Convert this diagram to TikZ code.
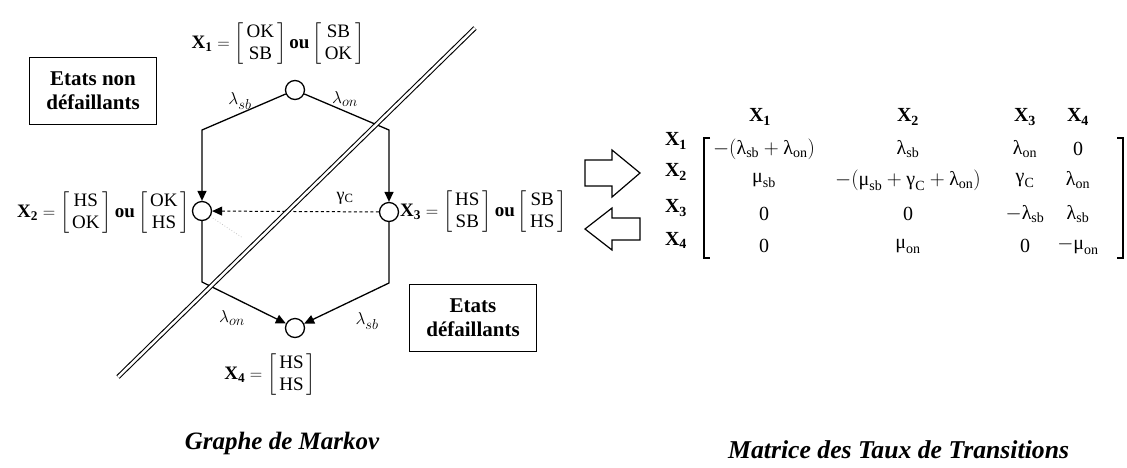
\documentclass[tikz,border=0pt]{standalone}
\usepackage{amsmath}
\usepackage{fontspec}
\setmainfont{Liberation Serif}
\usetikzlibrary{arrows.meta}
\newcommand{\vm}[2]{\left[\begin{array}{@{\hspace{3pt}}c@{\hspace{3pt}}}\text{#1}\\\text{#2}\end{array}\right]}
\newcommand{\Xs}[1]{\textbf{X}\textsubscript{\textbf{#1}}}
\newcommand{\gl}[2]{\text{#1}_{\text{#2}}}
\tikzset{
  state/.style={circle, draw, line width=1.3pt, minimum size=19pt, inner sep=0pt},
  edge/.style={line width=1.3pt, -{Triangle[length=10pt,width=9pt]}},
  lab/.style={font=\fontsize{19}{22}\selectfont, inner sep=0pt},
  rate/.style={font=\fontsize{19}{22}\selectfont, inner sep=1pt},
  etat/.style={draw, line width=1.2pt, align=center, font=\bfseries\fontsize{21}{24}\selectfont, minimum width=127pt, minimum height=67pt, inner sep=0pt},
  capt/.style={font=\bfseries\itshape\fontsize{25}{30}\selectfont, inner sep=0pt},
  mx/.style={font=\fontsize{20}{24}\selectfont, inner sep=0pt},
  hd/.style={font=\bfseries\fontsize{20}{24}\selectfont, inner sep=0pt},
  bigarrow/.style={draw, line width=1.2pt, fill=white, line join=miter},
  dbl/.style={double, double distance=2.5pt, line width=1.1pt}
}
\begin{document}
\begin{tikzpicture}[x=1pt,y=-1pt]
\useasboundingbox (0,0) rectangle (1127,467);
% states
\node[state] (X1) at (295,90) {};
\node[state] (X2) at (202,211) {};
\node[state] (X3) at (389,212) {};
\node[state] (X4) at (295,328) {};
% state labels
\node[lab] (L1) at (278,44) {\Xs{1} $=\vm{OK}{SB}$\,\textbf{ou}\,$\vm{SB}{OK}$};
\node[lab, anchor=east] (L2) at (190,213) {\Xs{2} $=\vm{HS}{OK}$\,\textbf{ou}\,$\vm{OK}{HS}$};
\node[lab, anchor=west] (L3) at (400,212) {\Xs{3} $=\vm{HS}{SB}$\,\textbf{ou}\,$\vm{SB}{HS}$};
\node[lab] (L4) at (270,375) {\Xs{4} $=\vm{HS}{HS}$};
% boxes
\node[etat] (B1) at (93,91) {Etats non\\défaillants};
\node[etat] (B2) at (473,318) {Etats\\défaillants};
% corners
\coordinate (cL) at (202,130);
\coordinate (cR) at (389,130);
\coordinate (bL) at (202,282);
\coordinate (bR) at (389,283);
\draw[edge] (X1) -- (cL) -- (X2);
\draw[edge] (X1) -- (cR) -- (X3);
\draw[edge] (X2) -- (bL) -- (X4);
\draw[edge] (X3) -- (bR) -- (X4);
\draw[edge, line width=1pt, dash pattern=on 3pt off 2.5pt] (X3) -- (X2);
\coordinate (f1) at (243,238);
\draw[gray!45, dotted, line width=0.8pt] (X2) -- (f1);
% rate labels
\node[rate] (r1) at (240,101) {$\lambda_{sb}$};
\node[rate] (r2) at (345,99) {$\lambda_{on}$};
\node[rate] (r3) at (232,318) {$\lambda_{on}$};
\node[rate] (r4) at (367,321) {$\lambda_{sb}$};
\node[rate, font=\fontsize{18}{20}\selectfont] (r5) at (345,198) {γ\textsubscript{C}};
% separating double line
\coordinate (d1) at (118,377);
\coordinate (d2) at (475,28);
\draw[dbl] (d1) -- (d2);
% block arrows
\draw[bigarrow] (585,160) -- (612,160) -- (612,150) -- (640,173) -- (612,197) -- (612,186) -- (585,186) -- cycle;
\draw[bigarrow] (640,218) -- (612,218) -- (612,208) -- (585,229) -- (612,250) -- (612,240) -- (640,240) -- cycle;
% matrix headers
\node[hd] (h1) at (760,117) {\Xs{1}};
\node[hd] (h2) at (908,117) {\Xs{2}};
\node[hd] (h3) at (1025,117) {\Xs{3}};
\node[hd] (h4) at (1078,117) {\Xs{4}};
\node[hd] (v1) at (676,141) {\Xs{1}};
\node[hd] (v2) at (676,172) {\Xs{2}};
\node[hd] (v3) at (676,208) {\Xs{3}};
\node[hd] (v4) at (676,240) {\Xs{4}};
% entries
\node[mx] (m11) at (764,149) {$-\!\left(\gl{λ}{sb}+\gl{λ}{on}\right)$};
\node[mx] (m12) at (908,149) {$\gl{λ}{sb}$};
\node[mx] (m13) at (1025,149) {$\gl{λ}{on}$};
\node[mx] (m14) at (1078,149) {0};
\node[mx] (m21) at (764,180) {$\gl{μ}{sb}$};
\node[mx] (m22) at (908,180) {$-\!\left(\gl{μ}{sb}+\gl{γ}{C}+\gl{λ}{on}\right)$};
\node[mx] (m23) at (1025,180) {$\gl{γ}{C}$};
\node[mx] (m24) at (1078,180) {$\gl{λ}{on}$};
\node[mx] (m31) at (764,214) {0};
\node[mx] (m32) at (908,214) {0};
\node[mx] (m33) at (1025,214) {$-\gl{λ}{sb}$};
\node[mx] (m34) at (1078,214) {$\gl{λ}{sb}$};
\node[mx] (m41) at (764,246) {0};
\node[mx] (m42) at (908,246) {$\gl{μ}{on}$};
\node[mx] (m43) at (1025,246) {0};
\node[mx] (m44) at (1078,246) {$-\gl{μ}{on}$};
% brackets
\draw[line width=1.1pt] (710,138) -- (704,138) -- (704,258) -- (710,258);
\draw[line width=1.1pt] (1117,138) -- (1123,138) -- (1123,258) -- (1117,258);
% captions
\node[capt] (c1) at (282,443) {Graphe de Markov};
\node[capt, anchor=west, font=\bfseries\itshape\fontsize{25.7}{30}\selectfont] (c2) at (728,450) {Matrice des Taux de Transitions};
\end{tikzpicture}
\end{document}
